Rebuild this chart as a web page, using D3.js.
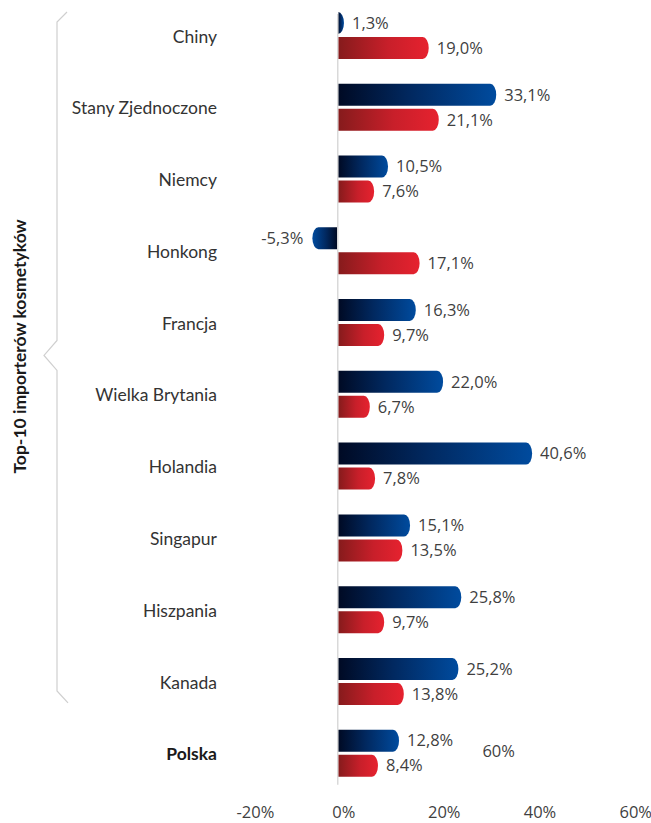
<!DOCTYPE html>
<html>
<head>
<meta charset="utf-8">
<script src="https://cdn.jsdelivr.net/npm/d3@7"></script>
<style>
  html, body { margin: 0; padding: 0; background: #ffffff; }
  svg { display: block; }
</style>
</head>
<body>
<svg id="chart" width="651" height="823"></svg>
<script>
// Countries (top-10 cosmetics importers, plus Poland for reference)
const countries = ["Chiny", "Stany Zjednoczone", "Niemcy", "Honkong", "Francja",
  "Wielka Brytania", "Holandia", "Singapur", "Hiszpania", "Kanada", "Polska"];

// First (blue) series, % change
const seriesBlue = [1.3, 33.1, 10.5, -5.3, 16.3, 22.0, 40.6, 15.1, 25.8, 25.2, 12.8];
// Second (red) series, % change
const seriesRed = [19.0, 21.1, 7.6, 17.1, 9.7, 6.7, 7.8, 13.5, 9.7, 13.8, 8.4];

// Axis ticks
const tickValues = [-20, 0, 20, 40, 60];

const groupTitle = "Top-10 importerów kosmetyków";
const highlighted = "Polska";
const strayLabel = "60%";

const svg = d3.select("#chart");

const fmt = v => d3.format(".1f")(v).replace(".", ",").replace("−", "-") + "%";

const x = d3.scaleLinear().domain([-20, 60]).range([242, 625]);

const y = d3.scaleBand()
  .domain(countries)
  .range([12, 776.7])
  .paddingInner(0.345)
  .paddingOuter(0);

const keys = ["blue", "red"];
const ySub = d3.scaleBand().domain(keys).range([0, y.bandwidth()]).paddingInner(0.12);

const rows = countries.map((c, i) => ({ country: c, blue: seriesBlue[i], red: seriesRed[i] }));

// Gradients: dark at the zero line, bright at the bar end
const defs = svg.append("defs");
const gradSpecs = {
  blue: [["0%", "#000a24"], ["45%", "#01285f"], ["100%", "#004b9e"]],
  red: [["0%", "#861b1c"], ["55%", "#c81f2a"], ["100%", "#e6222f"]]
};
Object.entries(gradSpecs).forEach(([k, stops]) => {
  ["pos", "neg"].forEach(dir => {
    const g = defs.append("linearGradient")
      .attr("id", `grad-${k}-${dir}`)
      .attr("x1", dir === "pos" ? "0%" : "100%")
      .attr("x2", dir === "pos" ? "100%" : "0%")
      .attr("y1", "0%").attr("y2", "0%");
    stops.forEach(([o, c]) => g.append("stop").attr("offset", o).attr("stop-color", c));
  });
});

// Zero line
const x0 = x(0);
svg.append("line")
  .attr("x1", x0).attr("x2", x0)
  .attr("y1", y.range()[0] + 2).attr("y2", y.range()[1] + 8)
  .attr("stroke", "#d9d9d9").attr("stroke-width", 1.5);

// Bar with a flat base on the zero line and a rounded end
function barPath(v, top, h) {
  const xe = x(v);
  const len = Math.abs(xe - x0);
  const r = Math.min(6, len);
  const s = v >= 0 ? 1 : -1;
  const b = x0 + s * 0.75;
  const xc = xe - s * r;
  return `M${b},${top} H${xc} A${r},${h / 2} 0 0 ${s > 0 ? 1 : 0} ${xc},${top + h} H${b} Z`;
}

const groups = svg.append("g").selectAll("g")
  .data(rows)
  .join("g")
  .attr("transform", d => `translate(0,${y(d.country)})`);

keys.forEach(k => {
  groups.append("path")
    .attr("d", d => barPath(d[k], ySub(k), ySub.bandwidth()))
    .attr("fill", d => `url(#grad-${k}-${d[k] >= 0 ? "pos" : "neg"})`);

  groups.append("text")
    .attr("x", d => d[k] >= 0 ? x(d[k]) + 8 : x(d[k]) - 9)
    .attr("y", ySub(k) + ySub.bandwidth() / 2)
    .attr("dy", "0.35em")
    .attr("text-anchor", d => d[k] >= 0 ? "start" : "end")
    .attr("font-family", "'Open Sans', sans-serif")
    .attr("font-size", 16.5)
    .attr("fill", "#3f3f3f")
    .text(d => fmt(d[k]));
});

// Country names
groups.append("text")
  .attr("x", 217)
  .attr("y", y.bandwidth() / 2 + 1)
  .attr("dy", "0.35em")
  .attr("text-anchor", "end")
  .attr("font-family", "Lato, sans-serif")
  .attr("font-size", 17.5)
  .attr("font-weight", d => d.country === highlighted ? 700 : 400)
  .attr("fill", d => d.country === highlighted ? "#1a1a1a" : "#333333")
  .text(d => d.country);

// Leftover label beside Poland
svg.append("text")
  .attr("x", x(30) + 1)
  .attr("y", y(highlighted) + y.bandwidth() / 2 - 2)
  .attr("dy", "0.35em")
  .attr("font-family", "'Open Sans', sans-serif")
  .attr("font-size", 16.5)
  .attr("fill", "#3f3f3f")
  .text(strayLabel);

// X axis labels
const axis = d3.axisBottom(x)
  .tickValues(tickValues)
  .tickSize(0)
  .tickFormat(d => d + "%");
const axisG = svg.append("g")
  .attr("transform", "translate(0,803)")
  .call(axis);
axisG.select(".domain").remove();
axisG.selectAll("text")
  .attr("text-anchor", "start")
  .attr("x", -6)
  .attr("font-family", "'Open Sans', sans-serif")
  .attr("font-size", 16.5)
  .attr("fill", "#3f3f3f");

// Brace grouping the top-10 importers
const bTop = y(countries[0]);
const bBot = y(countries[9]) + y.bandwidth();
const bMid = (bTop + bBot) / 2 - 3;
const braceX = 57;
svg.append("path")
  .attr("d", `M${braceX + 10},${bTop} L${braceX},${bTop + 10} V${bMid - 15} L${braceX - 13},${bMid} L${braceX},${bMid + 15} V${bBot - 14} L${braceX + 11},${bBot - 2}`)
  .attr("fill", "none")
  .attr("stroke", "#cfcfcf")
  .attr("stroke-width", 1.2);

svg.append("text")
  .attr("transform", `translate(20,${bMid - 9}) rotate(-90)`)
  .attr("text-anchor", "middle")
  .attr("dy", "0.35em")
  .attr("font-family", "Lato, sans-serif")
  .attr("font-size", 17.5)
  .attr("font-weight", 700)
  .attr("fill", "#1a1a1a")
  .text(groupTitle);
</script>
</body>
</html>
